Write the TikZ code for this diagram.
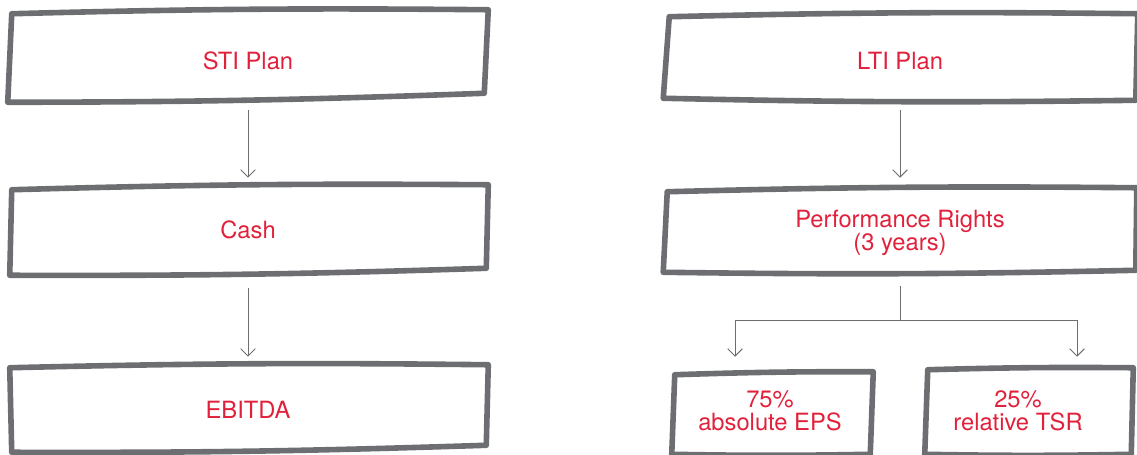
\documentclass[tikz,border=0pt]{standalone}
\usepackage{fontspec}
\setmainfont{TeX Gyre Heros}
\usepackage{xcolor}
\usetikzlibrary{calc,arrows.meta}
\definecolor{pen}{HTML}{6D6E71}
\definecolor{plan}{HTML}{E1213B}
\newcommand{\pxu}{0.75pt}
% hand drawn outline round a node: node, then offsets of NW, NE, SE, SW
\newcommand{\sketchbox}[5]{%
  \draw[sketch] ([shift={(#2)}]#1.north west) to[bend left=1] ([shift={(#3)}]#1.north east)
    -- ([shift={(#4)}]#1.south east) to[bend left=1] ([shift={(#5)}]#1.south west) -- cycle;}

\begin{document}
\begin{tikzpicture}[x=0.75pt,y=-0.75pt,
  box/.style={minimum width=476*\pxu,minimum height=88*\pxu,inner sep=0pt,align=center,
    text=plan,font=\fontsize{17.8}{17.5}\selectfont},
  small/.style={box,minimum width=206*\pxu,minimum height=86*\pxu},
  sketch/.style={draw=pen,line width=4.2pt,line join=round,line cap=round},
  link/.style={draw=pen,line width=0.7pt},
  conn/.style={link,-{Straight Barb[length=5.5pt,width=11pt,line width=0.7pt]}}]
  \useasboundingbox (0,0) rectangle (1137,454);
  \node[box] (sti) at (248,61) {STI Plan};
  \node[box] (cash) at (248,230) {Cash};
  \node[box,minimum height=86*\pxu] (ebitda) at (248,410) {EBITDA};
  \node[box,minimum width=473*\pxu,minimum height=86*\pxu] (lti) at (900,61) {LTI Plan};
  \node[box,minimum width=473*\pxu,minimum height=84*\pxu] (perf) at (900,233) {Performance Rights\\(3 years)};
  \node[small,minimum width=200*\pxu] (eps) at (770,411) {75\%\\absolute EPS};
  \node[small] (tsr) at (1018,411) {25\%\\relative TSR};
  \sketchbox{sti}{2,-3}{2,-7}{-2,-12}{-2,-3}
  \sketchbox{cash}{2,4}{2,-1}{0,-6}{0,1}
  \sketchbox{ebitda}{0,1}{2,-2}{0,-8}{2,-1}
  \sketchbox{lti}{6,-1}{1,-4}{-1,-4}{0,-6}
  \sketchbox{perf}{4,1}{0,-3}{-1,-5}{0,-3}
  \sketchbox{eps}{5,7}{3,4}{0,0}{2,0}
  \sketchbox{tsr}{13,2}{12,0}{10,0}{10,0}
  \draw[conn,shorten <=3.75pt,shorten >=6pt] (sti) -- (cash);
  \draw[conn,shorten <=10.5pt,shorten >=7.5pt] (cash) -- (ebitda);
  \draw[conn,shorten <=4.5pt,shorten >=9.75pt] (lti) -- (perf);
  \coordinate (split) at (900,320);
  \draw[link,shorten <=8.25pt] (perf) -- (split);
  \draw[conn] (split) -| ([shift={(-35,-11)}]eps.north);
  \draw[conn] (split) -| ([shift={(59,-11)}]tsr.north);
\end{tikzpicture}
\end{document}
